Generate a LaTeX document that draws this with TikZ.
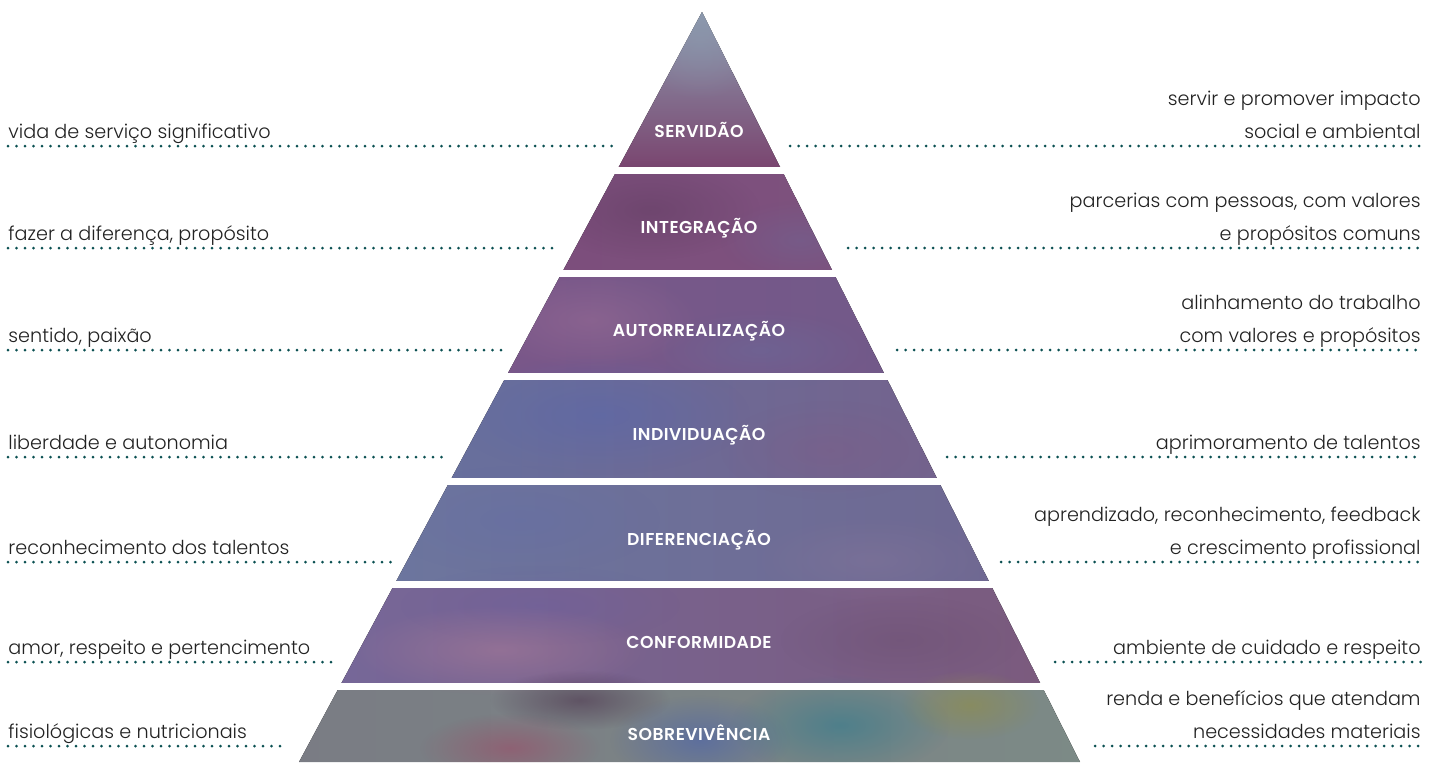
\documentclass[tikz,border=0pt]{standalone}
\usepackage{fontspec}
\setmainfont{Poppins}[UprightFont=* Light, BoldFont=* SemiBold]
\usetikzlibrary{positioning,fadings}
\usepackage{xcolor}
\definecolor{leaderteal}{HTML}{0B5052}
\definecolor{notegray}{HTML}{222222}
% tier washes
\definecolor{tAtop}{HTML}{8C9AAE}
\definecolor{tAbot}{HTML}{7A4670}
\definecolor{tBl}{HTML}{7B4B7B}
\definecolor{tBr}{HTML}{7E547E}
\definecolor{tCl}{HTML}{7E568A}
\definecolor{tCm}{HTML}{6E6294}
\definecolor{tCr}{HTML}{6E5A88}
\definecolor{tDl}{HTML}{6474A2}
\definecolor{tDm}{HTML}{6B6C9C}
\definecolor{tDr}{HTML}{775F88}
\definecolor{tEl}{HTML}{6C78A0}
\definecolor{tEm}{HTML}{746A94}
\definecolor{tEr}{HTML}{6F6690}
\definecolor{tFl}{HTML}{76689A}
\definecolor{tFm}{HTML}{825A84}
\definecolor{tFr}{HTML}{7B5A7C}
\definecolor{tGl}{HTML}{7A7C84}
\definecolor{tGm}{HTML}{5C7A98}
\definecolor{tGr}{HTML}{7C8A86}
% soft watercolour spot
\tikzfading[name=softspot, inner color=transparent!0, outer color=transparent!100]

\begin{document}
\begin{tikzpicture}[
  x=0.5pt, y=-0.5pt,
  tierlabel/.style={
    text=white, inner sep=0pt,
    font=\fontsize{8.6}{10}\selectfont\bfseries\addfontfeatures{LetterSpace=3}
  },
  note/.style={
    inner sep=0pt, text=notegray,
    font=\fontsize{9.6}{16.4}\selectfont,
    execute at end node={\rule[-3.6pt]{0pt}{1pt}}
  },
  lnote/.style={note, anchor=south west, align=left},
  rnote/.style={note, anchor=south east, align=right},
  leader/.style={
    draw=leaderteal, line width=1.5pt, line cap=round,
    dash pattern=on 0pt off 4.25pt
  },
  wash/.style={path fading=softspot},
]
  \useasboundingbox (0,0) rectangle (1438,762);

  % Pyramid outline
  \coordinate (apex) at (702,12);
  \coordinate (bl) at (299,762);
  \coordinate (br) at (1080,762);

  \begin{scope}
    \clip (apex) -- (bl) -- (br) -- cycle;
    % Tiers
    \fill[top color=tAtop, bottom color=tAbot] (290,12) rectangle (1090,167);
    \fill[left color=tBl, right color=tBr] (290,167) rectangle (1090,270);
    \fill[left color=tCl, middle color=tCm, right color=tCr] (290,270) rectangle (1090,373);
    \fill[left color=tDl, middle color=tDm, right color=tDr] (290,373) rectangle (1090,478);
    \fill[left color=tEl, middle color=tEm, right color=tEr] (290,478) rectangle (1090,581);
    \fill[left color=tFl, middle color=tFm, right color=tFr] (290,581) rectangle (1090,683);
    \fill[left color=tGl, middle color=tGm, right color=tGr] (290,683) rectangle (1090,762);

    % Watercolour patches
    \fill[wash, fill=tAtop, opacity=.5] (700,40) ellipse (60 and 60);
    \fill[wash, fill=black!30!tBl, opacity=.35] (650,210) ellipse (110 and 50);
    \fill[wash, fill=tDm, opacity=.35] (800,240) ellipse (80 and 40);
    \fill[wash, fill=pink!25!tCl, opacity=.45] (590,320) ellipse (110 and 50);
    \fill[wash, fill=tDl, opacity=.35] (760,350) ellipse (110 and 40);
    \fill[wash, fill=blue!12!tDl, opacity=.5] (600,415) ellipse (150 and 60);
    \fill[wash, fill=tFm, opacity=.35] (830,450) ellipse (110 and 50);
    \fill[wash, fill=blue!10!tEl, opacity=.35] (520,520) ellipse (140 and 55);
    \fill[wash, fill=pink!20!tEm, opacity=.3] (870,560) ellipse (120 and 45);
    \fill[wash, fill=blue!10!tFl, opacity=.35] (540,605) ellipse (140 and 40);
    \fill[wash, fill=pink!35!tFm, opacity=.5] (500,650) ellipse (150 and 45);
    \fill[wash, fill=black!25!tFm, opacity=.25] (900,640) ellipse (120 and 45);
    \fill[wash, fill=black!40!tFm, opacity=.6] (580,700) ellipse (90 and 30);
    \fill[wash, fill=red!25!tFm, opacity=.5] (510,748) ellipse (90 and 35);
    \fill[wash, fill=blue!20!tGm, opacity=.6] (700,740) ellipse (90 and 45);
    \fill[wash, fill=teal!40!tGm, opacity=.65] (840,725) ellipse (110 and 50);
    \fill[wash, fill=olive!50!tGr, opacity=.6] (970,705) ellipse (70 and 35);
  \end{scope}

  % Gaps between tiers
  \fill[white] (280,167) rectangle (1100,174);
  \fill[white] (280,270) rectangle (1100,277);
  \fill[white] (280,373) rectangle (1100,380);
  \fill[white] (280,478) rectangle (1100,485);
  \fill[white] (280,581) rectangle (1100,588);
  \fill[white] (280,683) rectangle (1100,690);

  % Tier names
  \node[tierlabel] (servidao) at (699,130) {SERVIDÃO};
  \node[tierlabel] (integracao) at (699,228) {INTEGRAÇÃO};
  \node[tierlabel] (autorrealizacao) at (699,331) {AUTORREALIZAÇÃO};
  \node[tierlabel] (individuacao) at (699,435) {INDIVIDUAÇÃO};
  \node[tierlabel] (diferenciacao) at (699,540) {DIFERENCIAÇÃO};
  \node[tierlabel] (conformidade) at (699,642) {CONFORMIDADE};
  \node[tierlabel] (sobrevivencia) at (699,733) {SOBREVIVÊNCIA};

  % Left notes
  \node[lnote] (servidao-l) at (8,146) {vida de serviço significativo};
  \node[lnote] (integracao-l) at (8,248) {fazer a diferença, propósito};
  \node[lnote] (autorrealizacao-l) at (8,350) {sentido, paixão};
  \node[lnote] (individuacao-l) at (8,457) {liberdade e autonomia};
  \node[lnote] (diferenciacao-l) at (8,562) {reconhecimento dos talentos};
  \node[lnote] (conformidade-l) at (8,662) {amor, respeito e pertencimento};
  \node[lnote] (sobrevivencia-l) at (8,746) {fisiológicas e nutricionais};

  % Right notes
  \node[rnote] (servidao-r) at (1421,146) {servir e promover impacto\\social e ambiental};
  \node[rnote] (integracao-r) at (1421,248) {parcerias com pessoas, com valores\\e propósitos comuns};
  \node[rnote] (autorrealizacao-r) at (1421,350) {alinhamento do trabalho\\com valores e propósitos};
  \node[rnote] (individuacao-r) at (1421,457) {aprimoramento de talentos};
  \node[rnote] (diferenciacao-r) at (1421,562) {aprendizado, reconhecimento, feedback\\e crescimento profissional};
  \node[rnote] (conformidade-r) at (1421,662) {ambiente de cuidado e respeito};
  \node[rnote] (sobrevivencia-r) at (1421,746) {renda e benefícios que atendam\\necessidades materiais};

  % Leader ends next to the pyramid
  \coordinate (servidao-lx) at (612,146);
  \coordinate (integracao-lx) at (558,248);
  \coordinate (autorrealizacao-lx) at (503,350);
  \coordinate (individuacao-lx) at (443,457);
  \coordinate (diferenciacao-lx) at (391,562);
  \coordinate (conformidade-lx) at (336,662);
  \coordinate (sobrevivencia-lx) at (288,746);
  \coordinate (servidao-rx) at (790,146);
  \coordinate (integracao-rx) at (848,248);
  \coordinate (autorrealizacao-rx) at (897,350);
  \coordinate (individuacao-rx) at (947,457);
  \coordinate (diferenciacao-rx) at (1001,562);
  \coordinate (conformidade-rx) at (1055,662);
  \coordinate (sobrevivencia-rx) at (1095,746);

  % Leaders
  \draw[leader] (servidao-l.south west) -- (servidao-lx);
  \draw[leader] (integracao-l.south west) -- (integracao-lx);
  \draw[leader] (autorrealizacao-l.south west) -- (autorrealizacao-lx);
  \draw[leader] (individuacao-l.south west) -- (individuacao-lx);
  \draw[leader] (diferenciacao-l.south west) -- (diferenciacao-lx);
  \draw[leader] (conformidade-l.south west) -- (conformidade-lx);
  \draw[leader] (sobrevivencia-l.south west) -- (sobrevivencia-lx);
  \draw[leader] (servidao-rx) -- (servidao-r.south east);
  \draw[leader] (integracao-rx) -- (integracao-r.south east);
  \draw[leader] (autorrealizacao-rx) -- (autorrealizacao-r.south east);
  \draw[leader] (individuacao-rx) -- (individuacao-r.south east);
  \draw[leader] (diferenciacao-rx) -- (diferenciacao-r.south east);
  \draw[leader] (conformidade-rx) -- (conformidade-r.south east);
  \draw[leader] (sobrevivencia-rx) -- (sobrevivencia-r.south east);
\end{tikzpicture}
\end{document}
